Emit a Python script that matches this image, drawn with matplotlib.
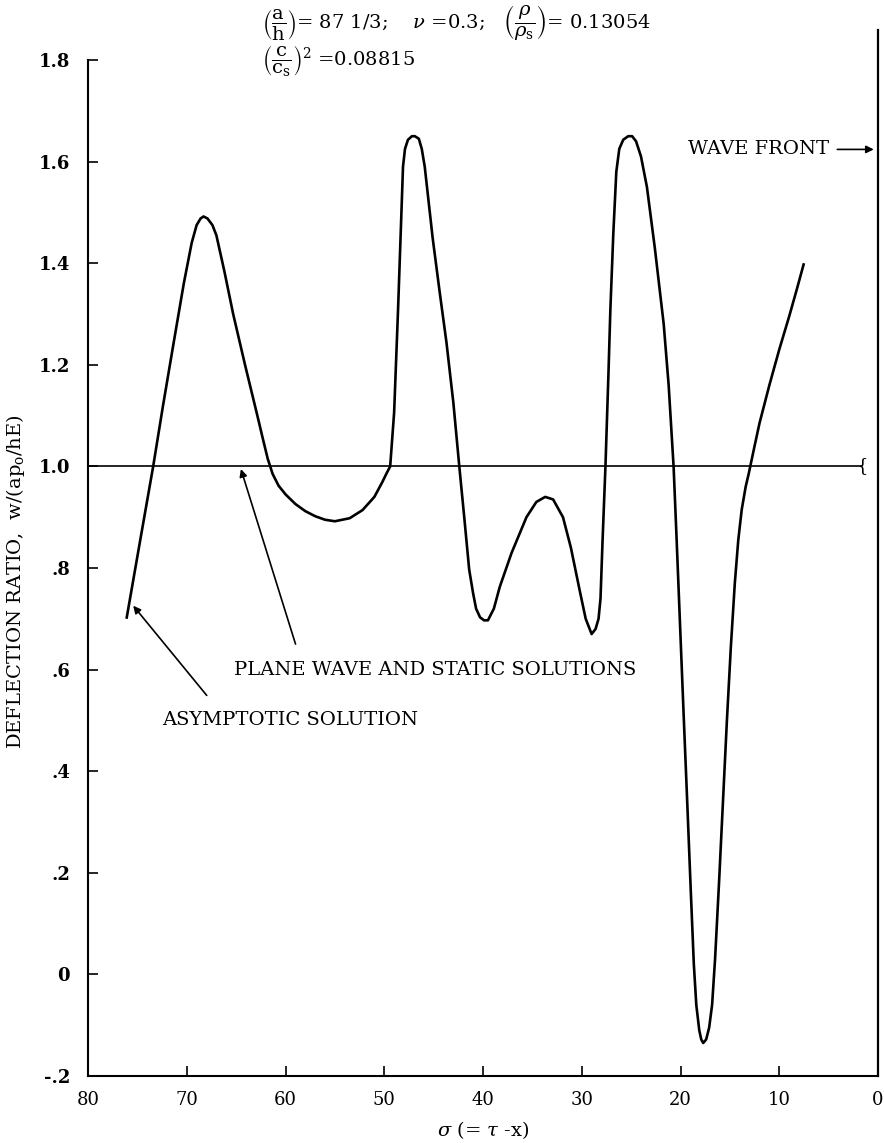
import matplotlib
matplotlib.use("Agg")
import matplotlib.pyplot as plt

plt.rcParams['font.family'] = ['DejaVu Serif']
plt.rcParams['mathtext.fontset'] = 'dejavuserif'

# ---- data ----
sigma = [76.1, 74.8, 73.4, 72.4, 71.4, 70.3, 69.5, 69.0, 68.6, 68.3, 67.9, 67.4,
         67.0, 66.2, 65.3, 64.1, 62.9, 62.3, 61.8, 61.3, 60.7, 60.0, 59.0, 58.0,
         57.0, 56.0, 55.0, 53.5, 52.2, 51.0, 50.2, 49.8, 49.4, 49.0, 48.6, 48.35,
         48.1, 47.9, 47.6, 47.2, 46.9, 46.5, 46.2, 45.9, 45.5, 45.1, 44.4, 43.7,
         43.0, 42.4, 41.9, 41.4, 41.0, 40.7, 40.3, 39.9, 39.5, 38.9, 38.3, 37.1,
         35.6, 34.6, 33.7, 32.9, 31.9, 31.1, 30.2, 29.6, 29.0, 28.6, 28.3, 28.1,
         27.9, 27.6, 27.3, 27.1, 26.8, 26.5, 26.2, 25.8, 25.3, 24.9, 24.5, 24.0,
         23.4, 22.6, 21.7, 21.2, 20.7, 20.4, 20.05, 19.7, 19.3, 18.95, 18.65, 18.4,
         18.1, 17.9, 17.7, 17.4, 17.1, 16.8, 16.5, 16.1, 15.7, 15.3, 14.9, 14.5,
         14.15, 13.8, 13.4, 13.1, 12.5, 12.0, 11.0, 10.0, 9.0, 8.2, 7.5]
deflection = [0.70, 0.845, 1.0, 1.12, 1.235, 1.36, 1.44, 1.475, 1.488, 1.492, 1.488, 1.475,
              1.455, 1.385, 1.30, 1.20, 1.104, 1.055, 1.015, 0.985, 0.962, 0.945, 0.926, 0.912,
              0.902, 0.895, 0.892, 0.898, 0.914, 0.94, 0.969, 0.985, 1.0, 1.106, 1.31, 1.45,
              1.59, 1.625, 1.643, 1.65, 1.65, 1.645, 1.625, 1.59, 1.52, 1.45, 1.345, 1.244,
              1.125, 1.0, 0.90, 0.797, 0.75, 0.72, 0.703, 0.697, 0.697, 0.72, 0.763, 0.83,
              0.90, 0.93, 0.94, 0.935, 0.90, 0.84, 0.755, 0.70, 0.670, 0.68, 0.70, 0.74,
              0.85, 1.0, 1.18, 1.31, 1.46, 1.58, 1.625, 1.643, 1.65, 1.65, 1.64, 1.61,
              1.55, 1.43, 1.28, 1.16, 1.0, 0.86, 0.69, 0.52, 0.33, 0.16, 0.02, -0.06,
              -0.11, -0.128, -0.135, -0.128, -0.105, -0.06, 0.03, 0.18, 0.34, 0.50, 0.645, 0.77,
              0.855, 0.915, 0.96, 0.985, 1.04, 1.085, 1.16, 1.23, 1.295, 1.35, 1.40]

static_x = [80.0, 1.65]
static_y = [1.0, 1.0]

xticks = [80, 70, 60, 50, 40, 30, 20, 10, 0]
xticklabels = ['80', '70', '60', '50', '40', '30', '20', '10', '0']
yticks = [-0.2, 0.0, 0.2, 0.4, 0.6, 0.8, 1.0, 1.2, 1.4, 1.6, 1.8]
yticklabels = ['-.2', '0', '.2', '.4', '.6', '.8', '1.0', '1.2', '1.4', '1.6', '1.8']

W, H = 884, 1143
fig = plt.figure(figsize=(W / 100, H / 100), dpi=100)
L, R, T, B = 88, 878, 60, 1076
ax = fig.add_axes([L / W, 1 - B / H, (R - L) / W, (B - T) / H])
ax.set_xlim(80, 0)
ax.set_ylim(-0.2, 1.8)

ax.plot(sigma, deflection, color='black', lw=1.9, solid_joinstyle='round', solid_capstyle='butt')
ax.plot(static_x, static_y, color='black', lw=1.2)
ax.text(1.6, 1.0, '{', fontsize=13, ha='center', va='center')

# wave front line
ax.plot([0, 0], [-0.2, 1.86], color='black', lw=1.6, clip_on=False)

for s in ['top', 'right']:
    ax.spines[s].set_visible(False)
for s in ['left', 'bottom']:
    ax.spines[s].set_linewidth(1.5)

ax.set_xticks(xticks)
ax.set_xticklabels(xticklabels, fontsize=13)
ax.set_yticks(yticks)
ax.set_yticklabels(yticklabels, fontsize=13, fontweight='bold')
ax.tick_params(direction='in', length=7, width=1.2)
ax.tick_params(axis='y', pad=13)
ax.tick_params(axis='x', pad=11)

ax.set_xlabel(r'$\sigma$ (= $\tau$ -x)', fontsize=14)
ax.set_ylabel(r'DEFLECTION RATIO,  w/(ap$_{\mathrm{o}}$/hE)', fontsize=14)
ax.yaxis.set_label_coords(-0.077, 0.487)
ax.xaxis.set_label_coords(0.5, -0.042)

# annotations
ax.text(4.9, 1.624, 'WAVE FRONT', fontsize=14, ha='right', va='center')
ax.annotate('', xy=(0.15, 1.624), xytext=(4.4, 1.624),
            arrowprops=dict(arrowstyle='-|>', color='black', lw=1.2, mutation_scale=11))

ax.text(65.2, 0.60, 'PLANE WAVE AND STATIC SOLUTIONS', fontsize=14, ha='left', va='center')
ax.annotate('', xy=(64.6, 1.0), xytext=(58.9, 0.645),
            arrowprops=dict(arrowstyle='-|>', color='black', lw=1.2, mutation_scale=11))

ax.text(72.5, 0.50, 'ASYMPTOTIC SOLUTION', fontsize=14, ha='left', va='center')
ax.annotate('', xy=(75.6, 0.73), xytext=(67.8, 0.545),
            arrowprops=dict(arrowstyle='-|>', color='black', lw=1.2, mutation_scale=11))

fig.text(262 / W, 1 - 22 / H,
         r'$\left(\dfrac{\mathrm{a}}{\mathrm{h}}\right)$= 87 1/3;    $\nu$ =0.3;   '
         r'$\left(\dfrac{\rho}{\rho_{\mathrm{s}}}\right)$= 0.13054',
         fontsize=14, ha='left', va='center')
fig.text(262 / W, 1 - 60 / H,
         r'$\left(\dfrac{\mathrm{c}}{\mathrm{c}_{\mathrm{s}}}\right)^{2}$ =0.08815',
         fontsize=14, ha='left', va='center')

fig.savefig('out.png', dpi=100)
